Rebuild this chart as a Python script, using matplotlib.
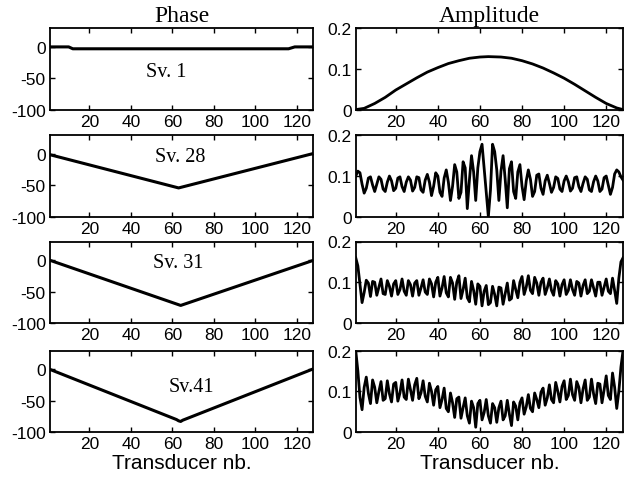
import matplotlib
matplotlib.use("Agg")
import matplotlib.pyplot as plt

# Transducer indices
transducers = list(range(1, 129))

# Phase of singular vectors (vertices of the phase-law curves)
phase_sv1_x = [1, 10, 12, 116, 119, 128]
phase_sv1_y = [0, 0, -3, -3, 0, 0]
phase_sv28_x = [1, 63, 128]
phase_sv28_y = [-1, -54, 1]
phase_sv31_x = [1, 64, 128]
phase_sv31_y = [0, -72, 0]
phase_sv41_x = [1, 62, 63, 64, 65, 128]
phase_sv41_y = [0, -80, -82, -83, -81, 1]

# Amplitude of singular vector 1 (smooth aperture law)
amp_sv1_x = [1, 5, 10, 15, 20, 25, 30, 35, 40, 45, 50, 55, 60, 64, 70, 75,
             80, 85, 90, 95, 100, 105, 110, 115, 120, 125, 128]
amp_sv1_y = [0.0, 0.003, 0.015, 0.03, 0.048, 0.063, 0.078, 0.092, 0.103,
             0.113, 0.12, 0.126, 0.129, 0.13, 0.129, 0.126, 0.12, 0.112,
             0.102, 0.09, 0.077, 0.062, 0.046, 0.03, 0.015, 0.004, 0.0]

# Amplitude of singular vector 28, one value per transducer
amp_sv28 = [
    0.100, 0.112, 0.108, 0.080, 0.058, 0.070, 0.095, 0.098, 0.078, 0.062,
    0.080, 0.098, 0.092, 0.068, 0.062, 0.085, 0.100, 0.088, 0.064, 0.070,
    0.095, 0.098, 0.074, 0.062, 0.085, 0.098, 0.090, 0.063, 0.072, 0.098,
    0.096, 0.066, 0.060, 0.090, 0.104, 0.085, 0.052, 0.075, 0.108, 0.100,
    0.060, 0.050, 0.095, 0.115, 0.085, 0.040, 0.075, 0.128, 0.110, 0.045,
    0.060, 0.135, 0.120, 0.020, 0.090, 0.150, 0.110, 0.040, 0.120, 0.160,
    0.178, 0.120, 0.060, 0.000, 0.065, 0.178, 0.160, 0.115, 0.040, 0.112,
    0.150, 0.092, 0.022, 0.118, 0.135, 0.062, 0.045, 0.110, 0.128, 0.075,
    0.042, 0.088, 0.115, 0.092, 0.050, 0.062, 0.102, 0.105, 0.070, 0.055,
    0.088, 0.102, 0.082, 0.060, 0.072, 0.098, 0.094, 0.068, 0.062, 0.088,
    0.100, 0.086, 0.063, 0.070, 0.096, 0.098, 0.074, 0.062, 0.082, 0.098,
    0.092, 0.066, 0.062, 0.086, 0.100, 0.088, 0.062, 0.068, 0.096, 0.100,
    0.078, 0.055, 0.072, 0.105, 0.115, 0.110, 0.098, 0.090,
]

# Amplitude of singular vector 31
amp_sv31 = [
    0.160, 0.140, 0.095, 0.050, 0.075, 0.105, 0.098, 0.065, 0.102, 0.100,
    0.068, 0.088, 0.108, 0.072, 0.070, 0.104, 0.090, 0.066, 0.096, 0.104,
    0.070, 0.082, 0.108, 0.078, 0.068, 0.104, 0.094, 0.066, 0.098, 0.104,
    0.068, 0.086, 0.106, 0.076, 0.070, 0.108, 0.096, 0.064, 0.100, 0.112,
    0.066, 0.086, 0.114, 0.074, 0.064, 0.112, 0.098, 0.058, 0.100, 0.116,
    0.060, 0.082, 0.110, 0.062, 0.052, 0.102, 0.080, 0.046, 0.096, 0.090,
    0.042, 0.078, 0.092, 0.045, 0.050, 0.090, 0.070, 0.042, 0.088, 0.086,
    0.046, 0.072, 0.098, 0.056, 0.060, 0.104, 0.082, 0.062, 0.100, 0.114,
    0.070, 0.088, 0.116, 0.080, 0.072, 0.112, 0.098, 0.068, 0.100, 0.110,
    0.070, 0.086, 0.108, 0.080, 0.068, 0.104, 0.096, 0.066, 0.094, 0.106,
    0.070, 0.080, 0.106, 0.082, 0.068, 0.102, 0.098, 0.066, 0.092, 0.106,
    0.072, 0.078, 0.106, 0.086, 0.066, 0.100, 0.100, 0.068, 0.088, 0.108,
    0.078, 0.072, 0.110, 0.080, 0.048, 0.110, 0.150, 0.160,
]

# Amplitude of singular vector 41
amp_sv41 = [
    0.200, 0.150, 0.085, 0.055, 0.110, 0.135, 0.095, 0.070, 0.128, 0.110,
    0.072, 0.100, 0.124, 0.078, 0.082, 0.126, 0.094, 0.074, 0.118, 0.122,
    0.076, 0.096, 0.128, 0.086, 0.080, 0.130, 0.104, 0.078, 0.116, 0.132,
    0.082, 0.096, 0.126, 0.088, 0.074, 0.120, 0.100, 0.066, 0.104, 0.112,
    0.060, 0.080, 0.108, 0.058, 0.050, 0.096, 0.072, 0.036, 0.082, 0.086,
    0.034, 0.060, 0.084, 0.040, 0.022, 0.076, 0.060, 0.012, 0.070, 0.078,
    0.030, 0.048, 0.080, 0.040, 0.022, 0.070, 0.060, 0.024, 0.060, 0.076,
    0.030, 0.040, 0.078, 0.044, 0.016, 0.074, 0.064, 0.030, 0.072, 0.084,
    0.044, 0.062, 0.092, 0.058, 0.050, 0.096, 0.080, 0.060, 0.098, 0.108,
    0.066, 0.084, 0.116, 0.080, 0.072, 0.122, 0.100, 0.074, 0.112, 0.126,
    0.080, 0.090, 0.130, 0.092, 0.078, 0.124, 0.110, 0.072, 0.106, 0.128,
    0.078, 0.086, 0.130, 0.094, 0.070, 0.120, 0.118, 0.072, 0.104, 0.138,
    0.090, 0.080, 0.145, 0.110, 0.058, 0.100, 0.160, 0.200,
]

sv_labels = ["Sv. 1", "Sv. 28", "Sv. 31", "Sv.41"]
sv_label_pos = [(57, -39), (64, -4), (63, -3), (69, -27)]

x_ticks = [20, 40, 60, 80, 100, 120]
phase_ticks = [0, -50, -100]
amp_ticks = [0, 0.1, 0.2]
amp_tick_labels = ["0", "0.1", "0.2"]

phase_series = [(phase_sv1_x, phase_sv1_y), (phase_sv28_x, phase_sv28_y),
                (phase_sv31_x, phase_sv31_y), (phase_sv41_x, phase_sv41_y)]
amp_series = [(amp_sv1_x, amp_sv1_y), (transducers, amp_sv28),
              (transducers, amp_sv31), (transducers, amp_sv41)]

sans = "Liberation Sans"
serif = "Liberation Serif"

fig = plt.figure(figsize=(6.41, 4.85), dpi=100)
fig.patch.set_facecolor("white")

row_bottoms = [0.772, 0.551, 0.332, 0.107]
row_h = 0.168
left_x, left_w = 0.078, 0.411
right_x, right_w = 0.555, 0.417


def style_axes(ax):
    for sp in ax.spines.values():
        sp.set_linewidth(1.3)
        sp.set_color("black")
    ax.tick_params(direction="in", length=3.5, width=1.0, top=True,
                   right=True, labelsize=12.5, pad=3)
    for lab in ax.get_xticklabels() + ax.get_yticklabels():
        lab.set_fontfamily(sans)
    ax.set_xlim(1, 128)
    ax.set_xticks(x_ticks)


for i in range(4):
    axl = fig.add_axes([left_x, row_bottoms[i], left_w, row_h])
    px, py = phase_series[i]
    axl.plot(px, py, color="black", lw=2.2)
    axl.set_ylim(-100, 30)
    axl.set_yticks(phase_ticks)
    axl.set_yticklabels([str(t) for t in phase_ticks])
    style_axes(axl)
    axl.text(sv_label_pos[i][0], sv_label_pos[i][1], sv_labels[i],
             fontfamily=serif, fontsize=14.5, ha="center", va="center")

    axr = fig.add_axes([right_x, row_bottoms[i], right_w, row_h])
    ax_, ay_ = amp_series[i]
    axr.plot(ax_, ay_, color="black", lw=2.0)
    axr.set_ylim(0, 0.2)
    axr.set_yticks(amp_ticks)
    axr.set_yticklabels(amp_tick_labels)
    style_axes(axr)

    if i == 0:
        axl.set_title("Phase", fontfamily=serif, fontsize=17, pad=5)
        axr.set_title("Amplitude", fontfamily=serif, fontsize=17, pad=5)
    if i == 3:
        axl.set_xlabel("Transducer nb.", fontfamily=sans, fontsize=15,
                       labelpad=1)
        axr.set_xlabel("Transducer nb.", fontfamily=sans, fontsize=15,
                       labelpad=1)

fig.savefig("out.png", dpi=100, facecolor="white")
